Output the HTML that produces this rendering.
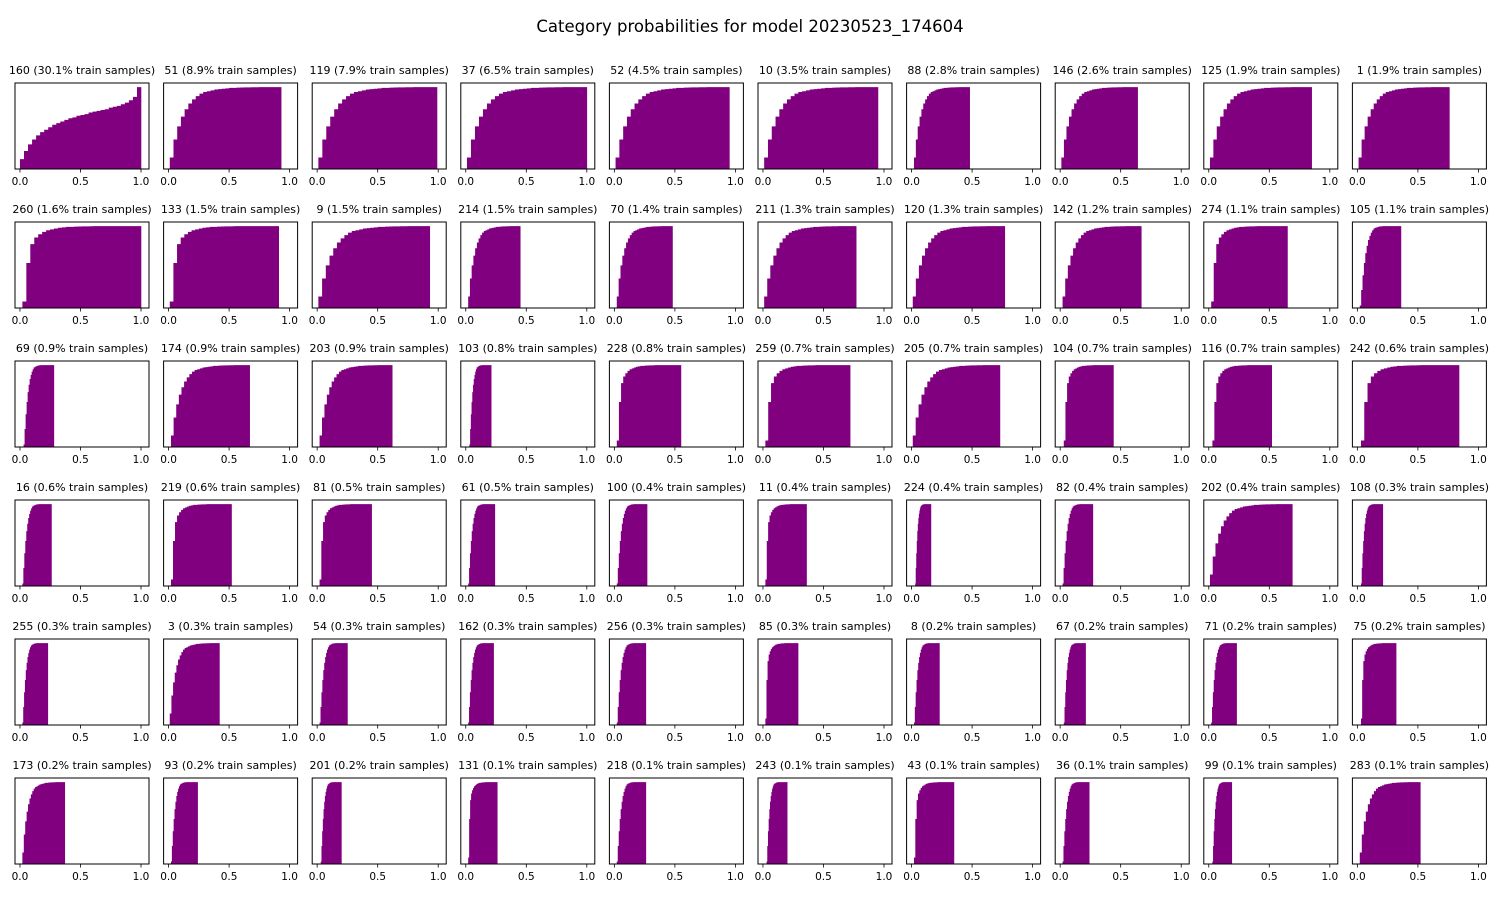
<!DOCTYPE html>
<html><head><meta charset="utf-8">
<style>
html,body{margin:0;padding:0;background:#fff;}
svg text{font-family:"DejaVu Sans","Liberation Sans",sans-serif;}
</style></head>
<body>
<svg id="chart" width="1500" height="900" xmlns="http://www.w3.org/2000/svg">
<text x="750" y="32" text-anchor="middle" font-size="16.5" fill="#000">Category probabilities for model 20230523_174604</text>
</svg>
<script>
// category labels
const categories = [160,51,119,37,52,10,88,146,125,1,
260,133,9,214,70,211,120,142,274,105,
69,174,203,103,228,259,205,104,116,242,
16,219,81,61,100,11,224,82,202,108,
255,3,54,162,256,85,8,67,71,75,
173,93,201,131,218,243,43,36,99,283];
const trainPct = ["30.1","8.9","7.9","6.5","4.5","3.5","2.8","2.6","1.9","1.9",
"1.6","1.5","1.5","1.5","1.4","1.3","1.3","1.2","1.1","1.1",
"0.9","0.9","0.9","0.8","0.8","0.7","0.7","0.7","0.7","0.6",
"0.6","0.6","0.5","0.5","0.4","0.4","0.4","0.4","0.4","0.3",
"0.3","0.3","0.3","0.3","0.3","0.3","0.2","0.2","0.2","0.2",
"0.2","0.2","0.2","0.1","0.1","0.1","0.1","0.1","0.1","0.1"];
// min / max probability per category
const probMin = [0.0,0.01,0.01,0.01,0.01,0.01,0.02,0.01,0.01,0.01,
0.02,0.01,0.01,0.02,0.02,0.01,0.01,0.02,0.02,0.02,
0.03,0.02,0.02,0.03,0.02,0.02,0.01,0.03,0.03,0.03,
0.02,0.02,0.02,0.02,0.02,0.02,0.03,0.02,0.01,0.03,
0.02,0.01,0.02,0.02,0.02,0.02,0.02,0.03,0.02,0.03,
0.02,0.02,0.03,0.02,0.02,0.03,0.02,0.02,0.03,0.02];
const probMax = [1.0,0.93,0.99,1.0,0.95,0.95,0.48,0.64,0.85,0.76,
1.0,0.91,0.93,0.45,0.48,0.77,0.77,0.67,0.65,0.36,
0.28,0.67,0.62,0.21,0.55,0.72,0.73,0.44,0.52,0.84,
0.26,0.52,0.45,0.24,0.27,0.36,0.16,0.27,0.69,0.21,
0.23,0.42,0.25,0.23,0.26,0.29,0.23,0.21,0.23,0.32,
0.37,0.24,0.20,0.26,0.26,0.20,0.35,0.24,0.19,0.52];
const shapeOf = "ABBBBBBBBB"+"DDBBBBBBDC"+"CBBCDDBDDD"+"CDDCCDCCBC"+"CBCCCDCCCD"+"BCCDCCDCCB";
// cumulative fractions over 30 bins for each shape family
const shapeA = [0.12,0.22,0.30,0.36,0.41,0.45,0.48,0.51,0.54,0.56,0.58,0.60,0.62,0.63,0.65,0.66,0.67,0.69,0.70,0.71,0.72,0.73,0.75,0.76,0.77,0.79,0.81,0.84,0.88,1.0];
const shapeB = [0.14,0.36,0.52,0.64,0.73,0.80,0.85,0.89,0.92,0.94,0.95,0.96,0.97,0.975,0.98,0.985,0.99,0.99,0.993,0.995,0.996,0.997,0.998,0.998,0.999,0.999,1,1,1,1];
const shapeC = [0.03,0.22,0.40,0.55,0.67,0.76,0.83,0.88,0.92,0.95,0.97,0.98,0.985,0.99,0.995,0.997,0.998,0.999,1,1,1,1,1,1,1,1,1,1,1,1];
const shapeD = [0.08,0.55,0.78,0.86,0.90,0.93,0.95,0.96,0.97,0.98,0.985,0.99,0.99,0.993,0.995,0.996,0.997,0.998,0.999,1,1,1,1,1,1,1,1,1,1,1];
const shapes = {A:shapeA,B:shapeB,C:shapeC,D:shapeD};
const xTicks = [0,0.5,1.0];
const xTickLabels = ["0.0","0.5","1.0"];

const NS="http://www.w3.org/2000/svg";
const svg=document.getElementById('chart');
const PW=134, PH=86, X0=15, Y0=83, DX=148.6, DY=139;
const XMIN=-0.041, XMAX=1.066, YMAX=1.05;
function mk(tag,attrs,parent){const e=document.createElementNS(NS,tag);for(const k in attrs)e.setAttribute(k,attrs[k]);(parent||svg).appendChild(e);return e;}

categories.forEach((cat,i)=>{
  const r=Math.floor(i/10), c=i%10;
  const left=X0+c*DX, top=Y0+r*DY;
  const sx=v=>left+(v-XMIN)/(XMAX-XMIN)*PW;
  const sy=v=>top+PH-v/YMAX*PH;
  const g=mk('g',{});
  
  
  const t=mk('text',{x:left+PW/2,y:top-9,'text-anchor':'middle','font-size':'11',fill:'#000'},g);
  t.textContent=cat+" ("+trainPct[i]+"% train samples)";
  
  
  const sh=shapes[shapeOf[i]];
  const lo=probMin[i], hi=probMax[i], n=sh.length, w=(hi-lo)/n;
  let d="";
  sh.forEach((v,k)=>{
    const x1=sx(lo+k*w), x2=sx(lo+(k+1)*w), y=sy(v);
    d+="M"+x1.toFixed(2)+","+(top+PH)+"V"+y.toFixed(2)+"H"+(x2+0.3).toFixed(2)+"V"+(top+PH)+"Z";
  });
  const p=mk('path',{d:d,fill:'#800080'},g);
  
  
  const fr=mk('rect',{x:left,y:top,width:PW,height:PH,fill:'none',stroke:'#000','stroke-width':1},g);
  
  
  xTicks.forEach((tv,k)=>{
    const x=sx(tv);
    mk('line',{x1:x,x2:x,y1:top+PH,y2:top+PH+3.5,stroke:'#000','stroke-width':0.8},g);
    const tl=mk('text',{x:x,y:top+PH+16,'text-anchor':'middle','font-size':'10.5',fill:'#000'},g);
    tl.textContent=xTickLabels[k];
    
    
  });
});
</script>
</body></html>
